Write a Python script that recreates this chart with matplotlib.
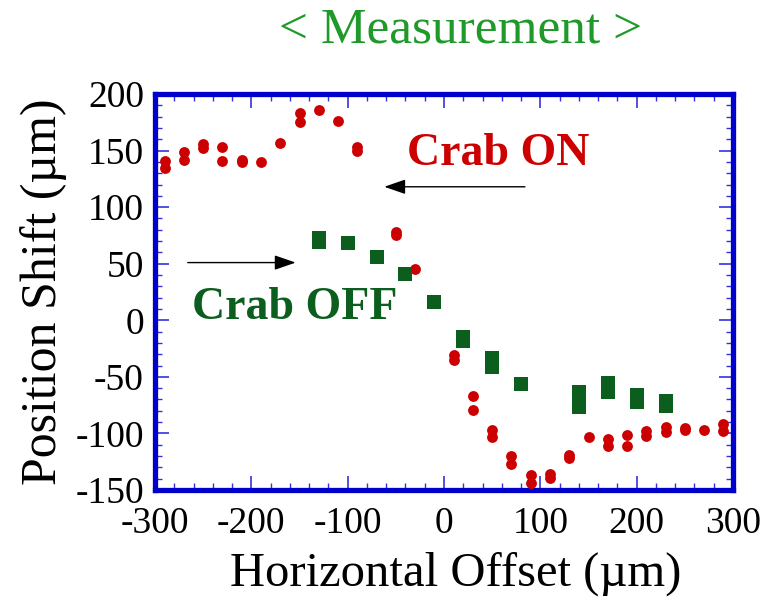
import matplotlib.pyplot as plt
from matplotlib.ticker import MultipleLocator

plt.rcParams['font.family'] = ['Liberation Serif', 'DejaVu Serif']
plt.rcParams['axes.unicode_minus'] = False

# Crab ON (red circles)
on_x = [-290, -290, -270, -270, -250, -250, -230, -230, -210, -210, -190, -170,
        -150, -150, -130, -110, -90, -90, -50, -50, -30,
        10, 10, 30, 30, 50, 50, 70, 70, 90, 90, 110, 110, 130, 130, 150,
        170, 170, 190, 190, 210, 210, 230, 230, 250, 250, 270, 290, 290]
on_y = [141, 135, 149, 142, 156, 152, 153, 141, 142, 140, 140, 157,
        183, 175, 186, 176, 153, 150, 78, 75, 45,
        -31, -35, -67, -79, -97, -103, -120, -127, -137, -144, -136, -139, -119, -122, -103,
        -105, -111, -101, -111, -98, -102, -94, -99, -95, -97, -97, -92, -98]

# Crab OFF (green squares)
off_x = [-130, -130, -100, -70, -40, -10, 20, 20, 50, 50, 80,
         140, 140, 140, 170, 170, 200, 200, 230, 230]
off_y = [73, 69, 68, 56, 41, 16, -15, -18, -33, -41, -56,
         -63, -70, -77, -55, -63, -66, -72, -71, -76]

xticks = [-300, -200, -100, 0, 100, 200, 300]
yticks = [-150, -100, -50, 0, 50, 100, 150, 200]

fig = plt.figure(figsize=(7.72, 6.05), dpi=100)
ax = fig.add_axes([155/772, 115/605, 578/772, 396/605])

ax.plot(on_x, on_y, 'o', color='#cc0000', markersize=7.8, markeredgewidth=0, zorder=3)
ax.plot(off_x, off_y, 's', color='#0b5e1e', markersize=9.5, markeredgewidth=0, zorder=4)

ax.set_xlim(-300, 300)
ax.set_ylim(-150, 200)
ax.set_xticks(xticks)
ax.set_yticks(yticks)
ax.xaxis.set_minor_locator(MultipleLocator(20))
ax.yaxis.set_minor_locator(MultipleLocator(10))
ax.tick_params(which='both', direction='in', top=True, right=True,
               color='#3333dd', labelsize=27)
ax.tick_params(which='major', length=10, width=1.2)
ax.tick_params(which='minor', length=5, width=1.0)
ax.tick_params(axis='x', which='major', pad=12)
ax.tick_params(axis='y', which='major', pad=8)
for s in ax.spines.values():
    s.set_color('#0000cc')
    s.set_linewidth(3.8)

ax.set_xlabel('Horizontal Offset (µm)', fontsize=35)
ax.xaxis.set_label_coords(0.52, -0.155)
ax.set_ylabel('Position Shift (µm)', fontsize=36, labelpad=6)

fig.text(0.596, 0.950, '< Measurement >', ha='center', va='center',
         fontsize=37, color='#1f9a2a')

ax.text(56, 147, 'Crab ON', ha='center', va='center', fontsize=33,
        fontweight='bold', color='#cc0000')
ax.text(-155, 11, 'Crab OFF', ha='center', va='center', fontsize=33,
        fontweight='bold', color='#0b5e1e')

ax.annotate('', xy=(-62, 118), xytext=(84, 118),
            arrowprops=dict(arrowstyle='-|>,head_length=1.3,head_width=0.45',
                            color='black', lw=1.0, shrinkA=0, shrinkB=0))
ax.annotate('', xy=(-154, 51), xytext=(-266, 51),
            arrowprops=dict(arrowstyle='-|>,head_length=1.3,head_width=0.45',
                            color='black', lw=1.0, shrinkA=0, shrinkB=0))

fig.savefig('out.png', dpi=100)
